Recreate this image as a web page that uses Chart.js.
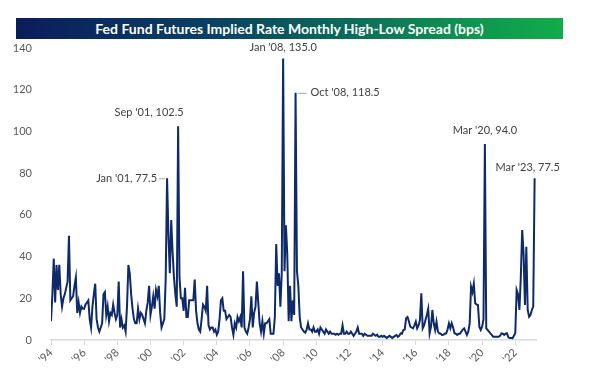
<!DOCTYPE html>
<html><head><meta charset="utf-8">
<script src="https://cdn.jsdelivr.net/npm/chart.js@4.4.0/dist/chart.umd.min.js"></script>
<style>
html,body{margin:0;padding:0;background:#fff;}
#wrap{position:relative;width:594px;height:381px;overflow:hidden;}
canvas{position:absolute;left:0;top:0;}
#title{position:absolute;left:16px;top:18px;width:547px;height:21px;
 background:linear-gradient(90deg,#0a1d5c 0%,#0b3f63 35%,#0b6a5a 60%,#0d9450 82%,#12ab4b 100%);
 color:#fff;font:bold 14px Lato, "Liberation Sans", sans-serif;text-align:center;line-height:21px;white-space:nowrap;}
</style></head><body>
<div id="wrap"><canvas id="c" width="594" height="381"></canvas><div id="title">Fed Fund Futures Implied Rate Monthly High-Low Spread (bps)</div></div>
<script>
// ---- data (monthly high-low spread, bps) ----
const startYear = 1994;
const monthNames = ["Jan","Feb","Mar","Apr","May","Jun","Jul","Aug","Sep","Oct","Nov","Dec"];
const s1994 = [9, 22, 39, 18, 36, 24, 36, 22, 16, 20, 22, 25];
const s1995 = [28, 50, 19, 20, 21, 26, 30, 13, 18, 13, 16, 15];
const s1996 = [15, 17, 18, 19, 10, 6, 16, 22, 27, 10, 6, 4];
const s1997 = [6, 8, 22, 23, 12, 16, 9, 13, 12, 17, 13, 10];
const s1998 = [12, 28, 6, 10, 6, 7, 4, 16, 36, 32, 22, 15];
const s1999 = [10, 8, 8, 15, 10, 13, 12, 10, 8, 14, 18, 26];
const s2000 = [12, 16, 21, 15, 24, 21, 26, 13, 6, 8, 10, 29];
const s2001 = [77.5, 50, 32, 57.5, 42, 30, 22, 16, 102.5, 30, 20, 20];
const s2002 = [14, 25, 11, 11, 19, 19, 19, 19, 29, 14, 8, 5];
const s2003 = [4, 10, 17, 16, 14, 26, 7, 5, 6, 6, 4, 5];
const s2004 = [2.5, 4, 10, 19, 20, 14, 14, 10, 11, 12, 11, 6];
const s2005 = [2.5, 8, 6, 11, 9, 11, 6, 33, 6, 4, 3, 6];
const s2006 = [10, 21, 6, 13, 16, 28, 18, 8, 4, 9, 3, 8];
const s2007 = [8, 9, 10, 3, 3, 3, 11, 46, 26, 32, 16, 32];
const s2008 = [135, 33, 55, 41, 9, 26, 9, 19, 12, 118.5, 33, 26];
const s2009 = [11, 6, 5, 4, 3.5, 5, 8, 5, 5, 4, 6, 4];
const s2010 = [4, 5, 3, 6, 5, 4, 3, 5, 4, 3, 4, 3];
const s2011 = [3, 3, 2.5, 3, 2.5, 3, 3, 7, 3, 3, 4, 3];
const s2012 = [3, 4, 3, 2, 3, 4, 6, 3, 3, 3, 2, 3];
const s2013 = [2.5, 2, 2, 2, 2, 3, 2.5, 2, 2.5, 1.5, 1.5, 2];
const s2014 = [1.5, 2, 1.5, 1, 1.5, 2, 1.5, 1, 1.5, 2, 2.4, 1.5];
const s2015 = [2, 3.2, 3, 4.8, 5, 10.4, 11, 9, 6.4, 6, 5.6, 7];
const s2016 = [8.8, 5.6, 7, 9.6, 22.4, 5.6, 7, 9.6, 12, 15, 3.2, 6.4];
const s2017 = [14.4, 8, 4.8, 8.8, 4, 3.2, 3, 2.4, 2.5, 3, 3.2, 5];
const s2018 = [8, 5.6, 8, 6, 3.2, 3, 2.4, 3, 3, 4, 5, 5.6];
const s2019 = [4, 2.4, 4, 8, 25.6, 23, 27, 17.6, 17, 16.8, 6.4, 4.8];
const s2020 = [6.4, 10, 94, 5.6, 4.8, 4, 3.2, 2.5, 1.6, 1.6, 1.6, 1.6];
const s2021 = [1.6, 2, 3.2, 3, 2.4, 3, 3.2, 1.3, 1, 1, 0.8, 2];
const s2022 = [3.2, 24, 22, 14.4, 30, 52.7, 41.5, 16.8, 44.7, 14.4, 11.2, 12];
const s2023 = [14.4, 16, 77.5];

const spreadBps = [].concat(s1994, s1995, s1996, s1997, s1998, s1999, s2000, s2001, s2002, s2003,
  s2004, s2005, s2006, s2007, s2008, s2009, s2010, s2011, s2012, s2013, s2014, s2015, s2016,
  s2017, s2018, s2019, s2020, s2021, s2022, s2023);
const categories = spreadBps.map((_, i) =>
  monthNames[i % 12] + " '" + String(startYear + Math.floor(i / 12)).slice(2));
const tickLabels = ["'94","'96","'98","'00","'02","'04","'06","'08","'10","'12","'14","'16","'18","'20","'22"];
const yTickValues = [0, 20, 40, 60, 80, 100, 120, 140];
const callouts = ["Jan '01", "Sep '01", "Jan '08", "Oct '08", "Mar '20", "Mar '23"];

// ---- callout placement (style only) ----
const calloutStyle = {
  "Jan '01": {dx: -10, dy: 0, align: 'right', leader: [-8, -2]},
  "Sep '01": {dx: -29, dy: -14, align: 'center'},
  "Jan '08": {dx: 0, dy: -11, align: 'center'},
  "Oct '08": {dx: 15, dy: 0, align: 'left', leader: [2, 11]},
  "Mar '20": {dx: 0, dy: -13, align: 'center'},
  "Mar '23": {dx: -7, dy: -11, align: 'center'}
};

const calloutPlugin = {
  id: 'callouts',
  afterDatasetsDraw(chart) {
    const {ctx, scales: {x, y}} = chart;
    ctx.save();
    ctx.font = '11px Lato, "Liberation Sans", sans-serif';
    ctx.fillStyle = '#404040';
    ctx.textBaseline = 'middle';
    callouts.forEach(cat => {
      const i = categories.indexOf(cat);
      const v = spreadBps[i];
      const px = x.getPixelForValue(i), py = y.getPixelForValue(v);
      const st = calloutStyle[cat];
      if (st.leader) {
        ctx.strokeStyle = '#a6a6a6';
        ctx.lineWidth = 1;
        ctx.beginPath();
        ctx.moveTo(px + st.leader[0], py + 0.5);
        ctx.lineTo(px + st.leader[1], py + 0.5);
        ctx.stroke();
      }
      ctx.textAlign = st.align;
      ctx.fillText(cat + ', ' + v.toFixed(1), px + st.dx, py + st.dy);
    });
    ctx.restore();
  }
};

new Chart(document.getElementById('c'), {
  type: 'line',
  data: {
    datasets: [{
      data: spreadBps.map((v, i) => ({x: i, y: v})),
      borderColor: '#0e2a6b',
      borderWidth: 2,
      pointRadius: 0,
      tension: 0,
      fill: false
    }]
  },
  options: {
    responsive: false,
    animation: false,
    devicePixelRatio: 1,
    layout: {padding: {top: 48, right: 58, left: 0, bottom: 0}},
    plugins: {legend: {display: false}, tooltip: {enabled: false}},
    scales: {
      x: {
        type: 'linear',
        min: 0,
        max: spreadBps.length,
        afterBuildTicks: s => { s.ticks = tickLabels.map((_, k) => ({value: k * 24})); },
        afterFit: s => { s.height = 41; },
        ticks: {
          autoSkip: false, maxRotation: 45, minRotation: 45, padding: 1,
          color: '#595959', font: {size: 11, family: 'Lato, "Liberation Sans", sans-serif'},
          callback: (v, idx) => tickLabels[idx]
        },
        grid: {display: true, drawOnChartArea: false, drawTicks: true, tickLength: 5, color: '#d9d9d9'},
        border: {display: true, color: '#d9d9d9', width: 1.5}
      },
      y: {
        min: 0, max: 140,
        afterBuildTicks: s => { s.ticks = yTickValues.map(v => ({value: v})); },
        afterFit: s => { s.width = 51; },
        ticks: {padding: 11, color: '#595959', font: {size: 11, family: 'Lato, "Liberation Sans", sans-serif'}},
        grid: {display: false},
        border: {display: false}
      }
    }
  },
  plugins: [calloutPlugin]
});
</script>
</body></html>
